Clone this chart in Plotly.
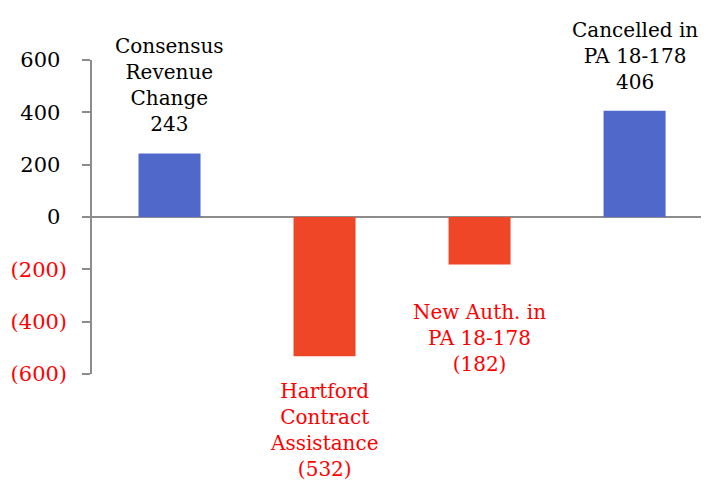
import plotly.graph_objects as go

categories = ["Consensus<br>Revenue<br>Change", "Hartford<br>Contract<br>Assistance",
              "New Auth. in<br>PA 18-178", "Cancelled in<br>PA 18-178"]
values = [243, -532, -182, 406]
value_labels = ["243", "(532)", "(182)", "406"]
tick_vals = [600, 400, 200, 0, -200, -400, -600]
tick_text = ["600", "400", "200", "0", "(200)", "(400)", "(600)"]

BLUE = "#4F68C9"
RED_BAR = "#F04628"
RED_TXT = "#FF0000"
FONT = "Book Antiqua, Palatino Linotype, Palatino, DejaVu Serif, serif"

xs = list(range(len(values)))
colors = [BLUE if v >= 0 else RED_BAR for v in values]

fig = go.Figure(go.Bar(x=xs, y=values, marker=dict(color=colors, line=dict(width=0)),
                       width=0.4, hoverinfo="skip"))

tt = []
for v, t in zip(tick_vals, tick_text):
    if v < 0:
        tt.append(f'<span style="color:{RED_TXT}">{t}</span>')
    else:
        tt.append(t + "\u2008")

annotations = []
for x, v, c, lab in zip(xs, values, categories, value_labels):
    if v >= 0:
        annotations.append(dict(x=x, y=v, xref="x", yref="y", text=f"{c}<br>{lab}",
                                showarrow=False, yanchor="bottom", yshift=15,
                                font=dict(family=FONT, size=20, color="black")))
    else:
        annotations.append(dict(x=x, y=v, xref="x", yref="y", text=f"{c}<br>{lab}",
                                showarrow=False, yanchor="top", yshift=-21 if v < -300 else -33,
                                font=dict(family=FONT, size=20, color=RED_TXT)))

fig.update_layout(
    width=701, height=477,
    margin=dict(l=84, r=0, t=52, b=110.5),
    plot_bgcolor="white", paper_bgcolor="white",
    showlegend=False,
    font=dict(family=FONT, size=20, color="black"),
    annotations=annotations,
    xaxis=dict(range=[-0.5, 3.48], showticklabels=False, showgrid=False, zeroline=False,
               showline=False, fixedrange=True),
    yaxis=dict(range=[-600, 600], tickvals=tick_vals, ticktext=tt, showgrid=False,
               zeroline=True, zerolinecolor="#8C8C8C", zerolinewidth=1.5,
               showline=True, linecolor="#8C8C8C", linewidth=1.5,
               ticks="outside", ticklen=8, tickcolor="#8C8C8C", tickwidth=1.5,
               ticklabelstandoff=11,
               tickfont=dict(family=FONT, size=21, color="black")),
)

fig.write_html("out.html")
